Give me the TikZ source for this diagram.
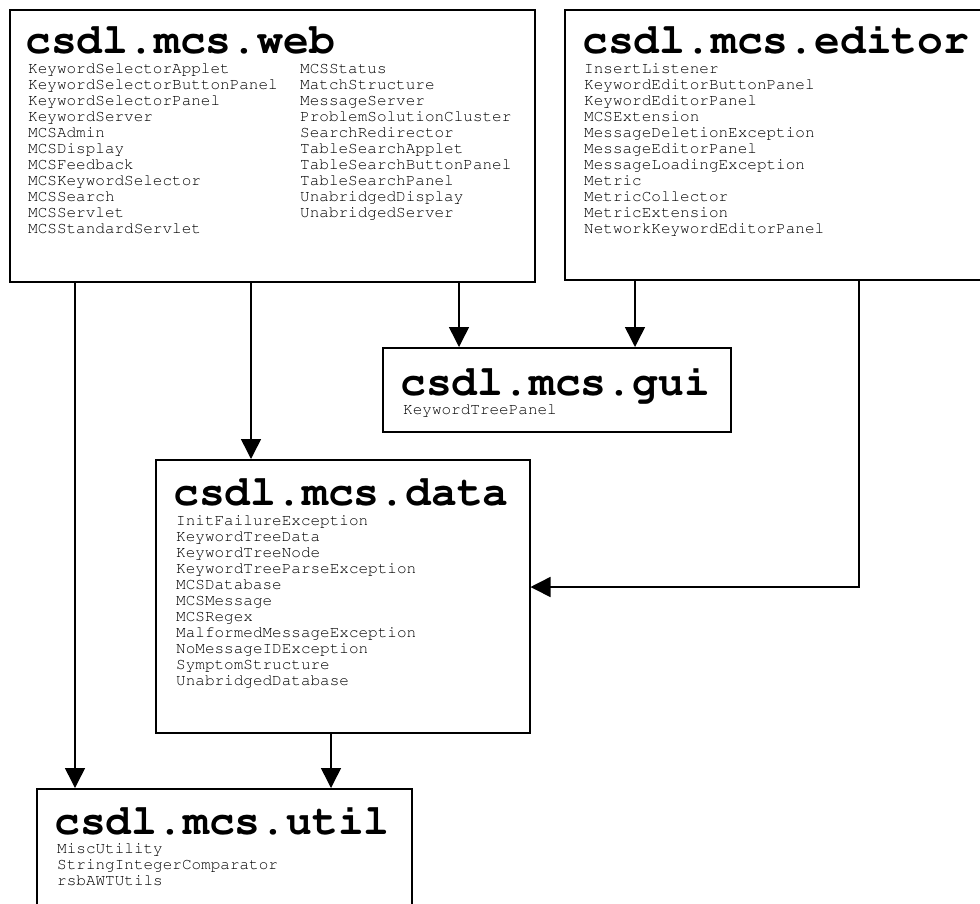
\documentclass[tikz,border=0pt]{standalone}
\usepackage[T1]{fontenc}
\usepackage{courier}
\usetikzlibrary{arrows.meta}
\newcommand{\pkgtitle}{\ttfamily\bfseries\fontsize{43}{43}\selectfont}
\newcommand{\pkglist}{\ttfamily\fontsize{16}{16}\selectfont}
\newcommand{\classes}[1]{\begin{tabular}[t]{@{}l@{}}#1\end{tabular}}

\begin{document}
\begin{tikzpicture}[x=1pt,y=-1pt,line join=miter,
  pkg/.style={draw,rectangle,anchor=north west,inner sep=0pt,line width=1.5pt},
  ttl/.style={anchor=base west,inner sep=0pt,font=\pkgtitle},
  cls/.style={anchor=base west,inner sep=0pt,font=\pkglist},
  dep/.style={-{Triangle[length=20pt,width=20pt]},line width=1.5pt}]
\useasboundingbox (0,0) rectangle (980,903);
% package boxes
\node[pkg,minimum width=525pt,minimum height=272pt] (web) at (9,9) {};
\node[pkg,minimum width=425pt,minimum height=270pt] (editor) at (564,9) {};
\node[pkg,minimum width=348pt,minimum height=84pt] (gui) at (382,347) {};
\node[pkg,minimum width=374pt,minimum height=273pt] (data) at (155,459) {};
\node[pkg,minimum width=375pt,minimum height=130pt] (util) at (36,788) {};
% csdl.mcs.web
\node[ttl] (webname) at (25,53) {csdl.mcs.web};
\node[cls] (weblist1) at (28,73) {\classes{KeywordSelectorApplet\\KeywordSelectorButtonPanel\\
  KeywordSelectorPanel\\KeywordServer\\MCSAdmin\\MCSDisplay\\MCSFeedback\\
  MCSKeywordSelector\\MCSSearch\\MCSServlet\\MCSStandardServlet}};
\node[cls] (weblist2) at (300,73) {\classes{MCSStatus\\MatchStructure\\MessageServer\\
  ProblemSolutionCluster\\SearchRedirector\\TableSearchApplet\\
  TableSearchButtonPanel\\TableSearchPanel\\UnabridgedDisplay\\UnabridgedServer}};
% csdl.mcs.editor
\node[ttl] (editorname) at (582,53) {csdl.mcs.editor};
\node[cls] (editorlist) at (584,73) {\classes{InsertListener\\KeywordEditorButtonPanel\\
  KeywordEditorPanel\\MCSExtension\\MessageDeletionException\\MessageEditorPanel\\
  MessageLoadingException\\Metric\\MetricCollector\\MetricExtension\\
  NetworkKeywordEditorPanel}};
% csdl.mcs.gui
\node[ttl] (guiname) at (400,395) {csdl.mcs.gui};
\node[cls] (guilist) at (403,414) {\classes{KeywordTreePanel}};
% csdl.mcs.data
\node[ttl] (dataname) at (173,505) {csdl.mcs.data};
\node[cls] (datalist) at (176,525) {\classes{InitFailureException\\KeywordTreeData\\
  KeywordTreeNode\\KeywordTreeParseException\\MCSDatabase\\MCSMessage\\MCSRegex\\
  MalformedMessageException\\NoMessageIDException\\SymptomStructure\\
  UnabridgedDatabase}};
% csdl.mcs.util
\node[ttl] (utilname) at (54,834) {csdl.mcs.util};
\node[cls] (utillist) at (57,853) {\classes{MiscUtility\\StringIntegerComparator\\rsbAWTUtils}};
% dependencies
\draw[dep] (75,0 |- web.south) -- (75,0 |- util.north);
\draw[dep] (251,0 |- web.south) -- (251,0 |- data.north);
\draw[dep] (459,0 |- web.south) -- (459,0 |- gui.north);
\draw[dep] (635,0 |- editor.south) -- (635,0 |- gui.north);
\draw[dep] (859,0 |- editor.south) |- (data.east |- 0,587);
\draw[dep] (331,0 |- data.south) -- (331,0 |- util.north);
\end{tikzpicture}
\end{document}
